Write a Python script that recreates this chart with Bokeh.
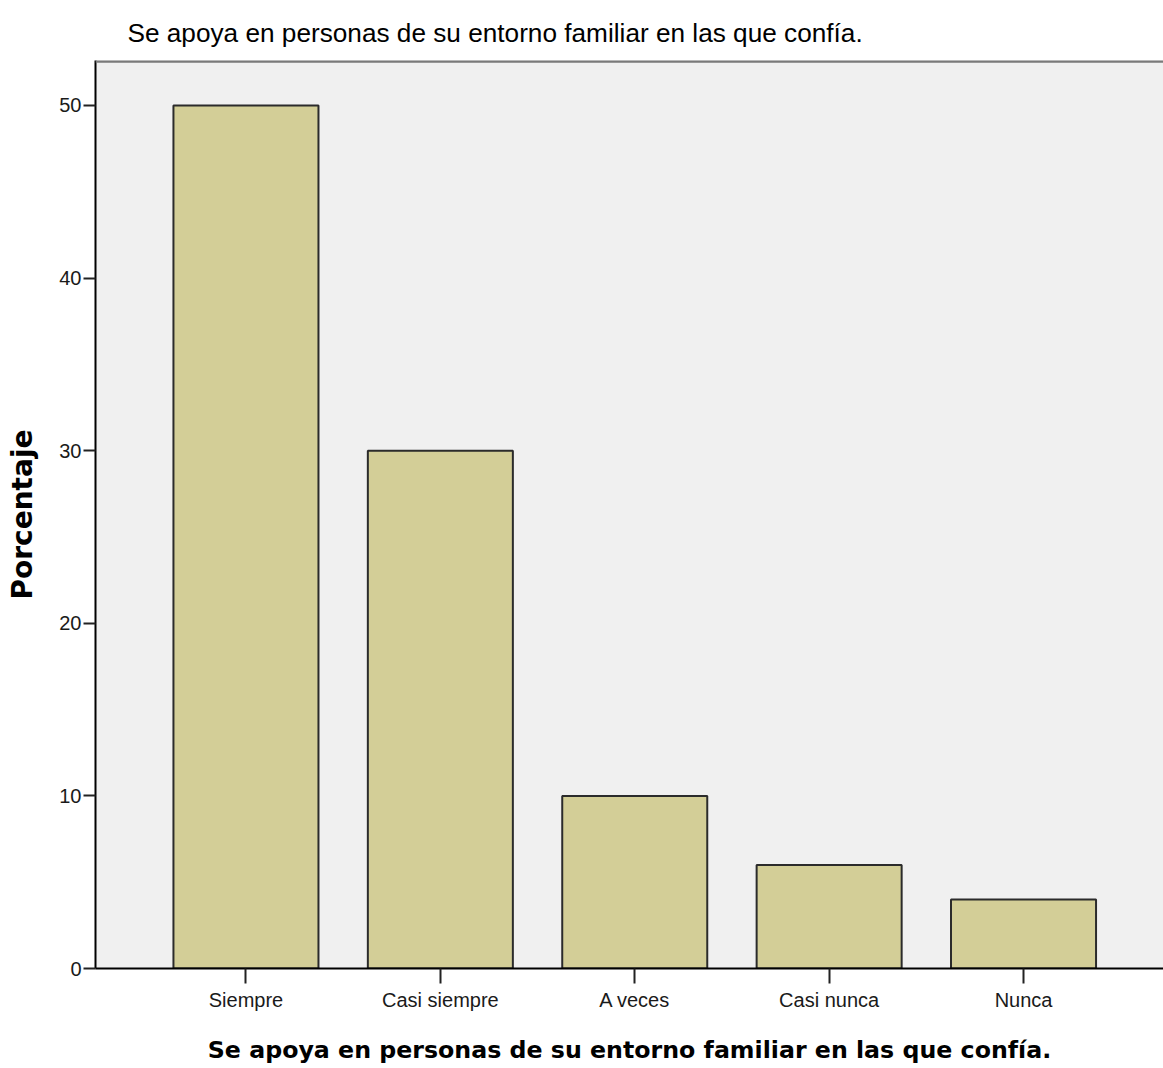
from bokeh.plotting import figure
from bokeh.models import FixedTicker, Span, Range1d, ColumnDataSource
from bokeh.embed import file_html
from bokeh.resources import INLINE

categories = ["Siempre", "Casi siempre", "A veces", "Casi nunca", "Nunca"]
percentages = [50, 30, 10, 6, 4]
y_ticks = [0, 10, 20, 30, 40, 50]
title_text = "Se apoya en personas de su entorno familiar en las que confía."

positions = list(range(1, len(categories) + 1))
src = ColumnDataSource(dict(x=positions, top=percentages))

p = figure(width=1163, height=1066, output_backend="svg", toolbar_location=None,
           x_range=Range1d(0.226, 5.72), y_range=Range1d(0, 52.6),
           min_border_left=95, min_border_top=60, min_border_bottom=98, min_border_right=0)

p.vbar(x="x", top="top", width=0.746, source=src, fill_color="#d3ce97",
       line_color="#2b2b2b", line_width=2)

p.background_fill_color = "#f0f0f0"
p.border_fill_color = "white"
p.outline_line_color = None
p.xgrid.visible = False
p.ygrid.visible = False

top_line = Span(location=52.55, dimension="width", line_color="#7a7a7a", line_width=3)
p.add_layout(top_line)

p.title.text = title_text
p.title.align = "left"
p.title.offset = 32
p.title.text_font = "Liberation Sans"
p.title.text_font_size = "26.2px"
p.title.text_font_style = "normal"
p.title.text_color = "black"
p.title.standoff = 26

# x axis
p.xaxis.ticker = FixedTicker(ticks=positions)
p.xaxis.major_label_overrides = {i: c for i, c in zip(positions, categories)}
p.xaxis.axis_line_color = "black"
p.xaxis.axis_line_width = 2
p.xaxis.major_tick_out = 15
p.xaxis.major_tick_in = 0
p.xaxis.major_tick_line_color = "#222222"
p.xaxis.major_tick_line_width = 2
p.xaxis.minor_tick_line_color = None
p.xaxis.major_label_text_font = "Liberation Sans"
p.xaxis.major_label_text_font_size = "20px"
p.xaxis.major_label_text_color = "#1a1a1a"
p.xaxis.major_label_standoff = 5
p.xaxis.axis_label = title_text
p.xaxis.axis_label_text_font = "DejaVu Sans"
p.xaxis.axis_label_text_font_style = "bold"
p.xaxis.axis_label_text_font_size = "23.7px"
p.xaxis.axis_label_text_color = "black"
p.xaxis.axis_label_standoff = 22

# y axis
p.yaxis.ticker = FixedTicker(ticks=y_ticks)
p.yaxis.axis_line_color = "black"
p.yaxis.axis_line_width = 2
p.yaxis.major_tick_out = 12
p.yaxis.major_tick_in = 0
p.yaxis.major_tick_line_color = "#222222"
p.yaxis.major_tick_line_width = 2
p.yaxis.minor_tick_line_color = None
p.yaxis.major_label_text_font = "Liberation Sans"
p.yaxis.major_label_text_font_size = "20px"
p.yaxis.major_label_text_color = "#1a1a1a"
p.yaxis.major_label_standoff = 2
p.yaxis.axis_label = "Porcentaje"
p.yaxis.axis_label_text_font = "DejaVu Sans"
p.yaxis.axis_label_text_font_style = "bold"
p.yaxis.axis_label_text_font_size = "28px"
p.yaxis.axis_label_text_color = "black"
p.yaxis.axis_label_standoff = 17

open("out.html", "w").write(file_html(p, INLINE))
